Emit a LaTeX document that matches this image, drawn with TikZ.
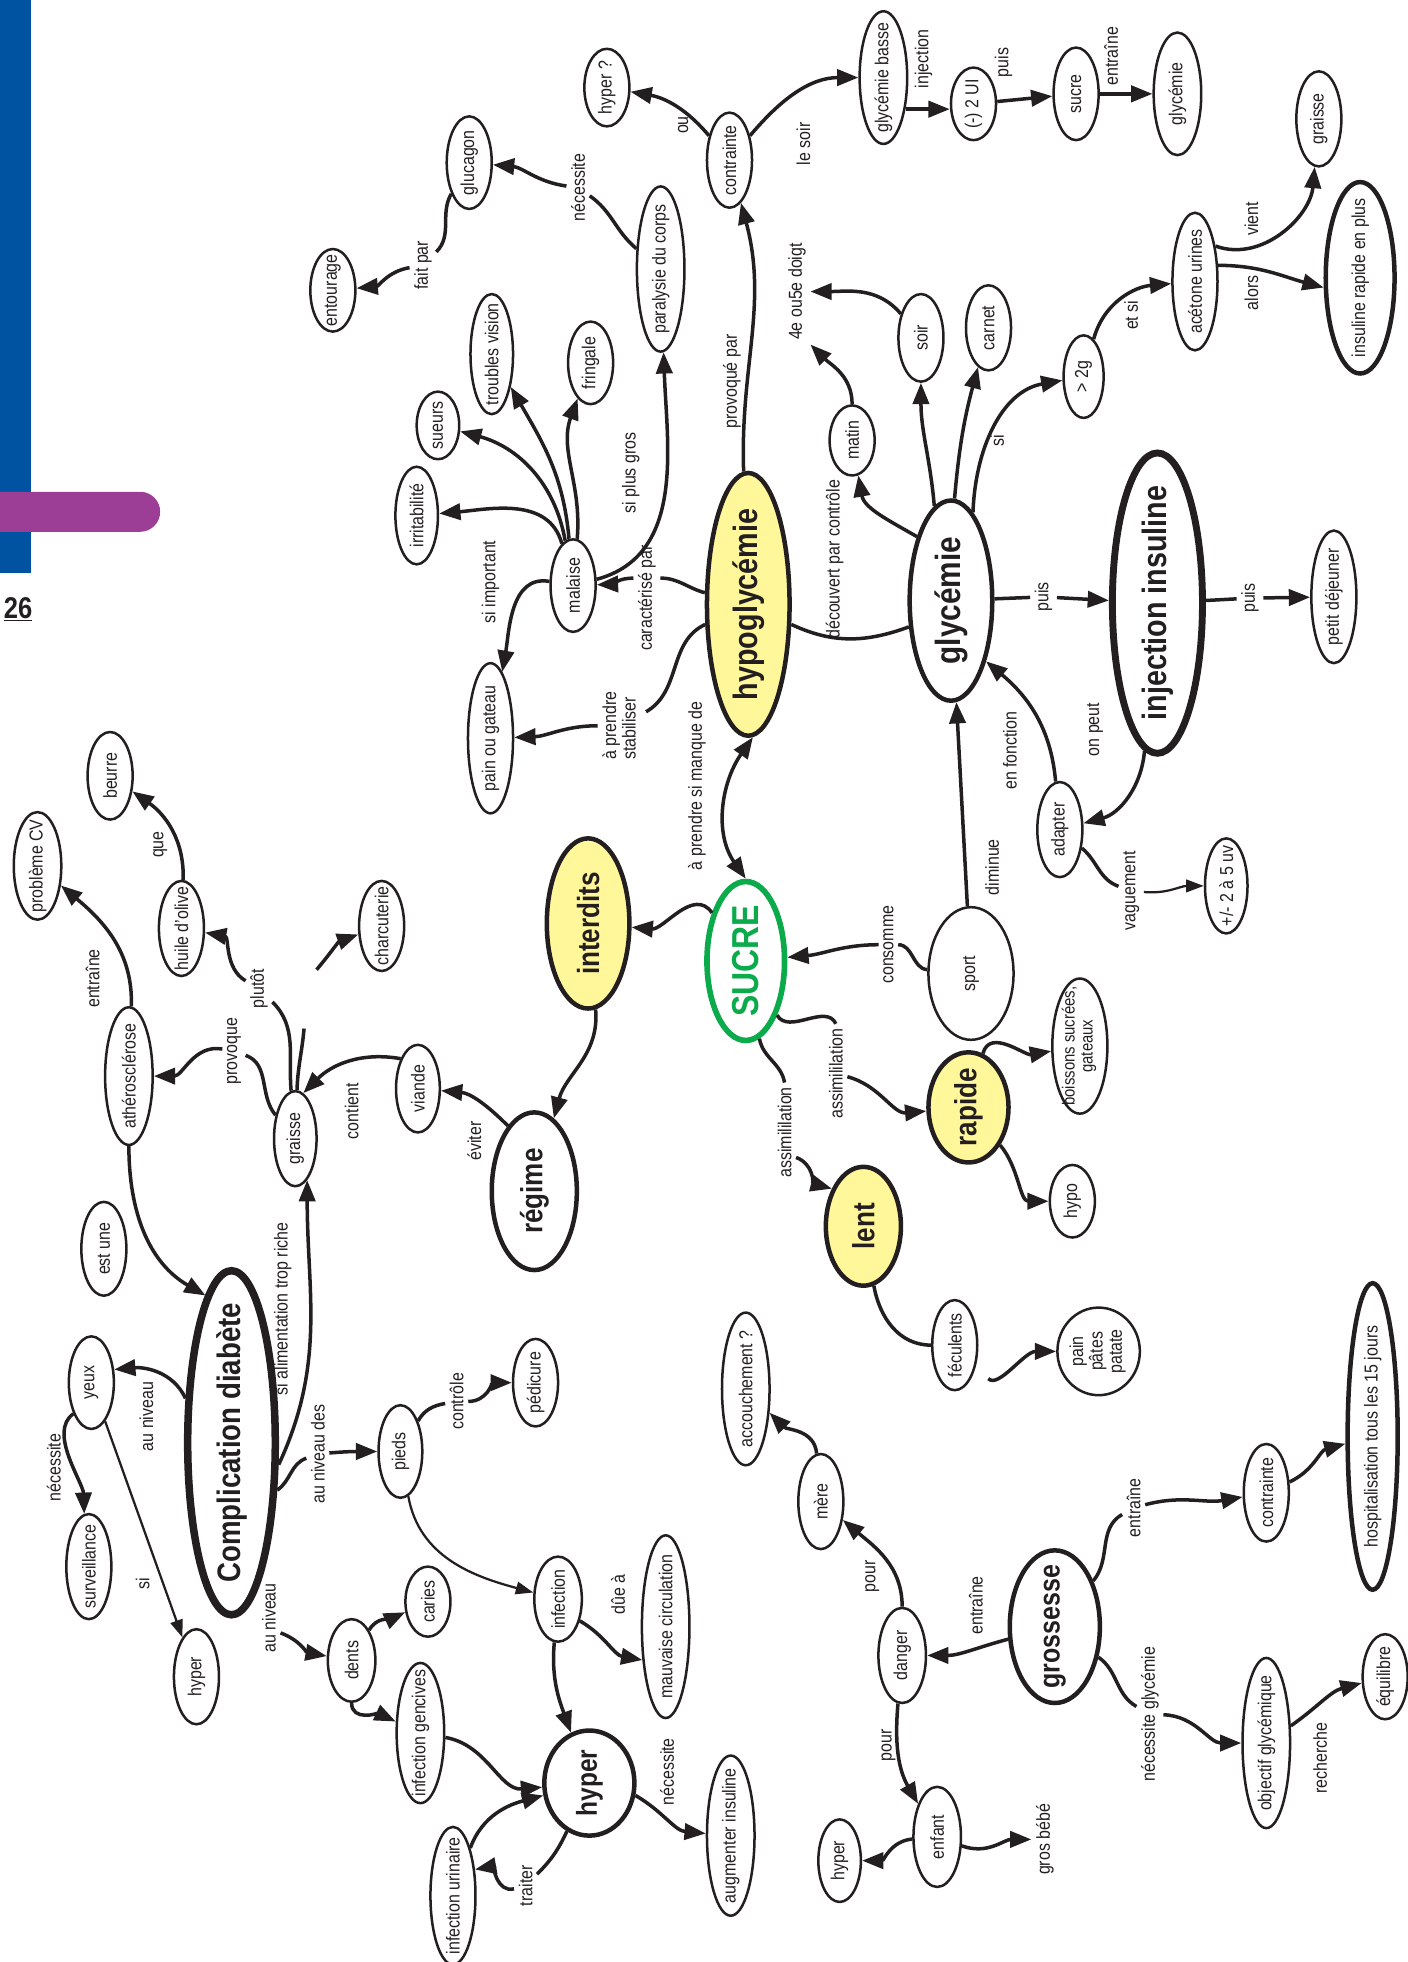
\documentclass[tikz,border=0pt]{standalone}
\usepackage{fontspec}
\usepackage{graphicx}
\setmainfont{Liberation Sans}[FakeStretch=0.85]
\usetikzlibrary{shapes.geometric,arrows.meta}
\definecolor{MapInk}{HTML}{231F20}
\definecolor{MapYellow}{HTML}{FFF799}
\definecolor{MapGreen}{HTML}{0BAA4B}
\definecolor{PageBlue}{HTML}{0053A0}
\definecolor{PagePurple}{HTML}{9C3D96}
\newcommand\lblsize{\fontsize{15}{15.5}\selectfont}
\newcommand\keyfont[1]{\fontsize{#1}{#1}\selectfont\bfseries}
\newcommand\nodetext[1]{\rotatebox{90}{\makebox[0pt]{#1}}}
\newcommand\vtext[1]{\rotatebox{90}{#1}}

\begin{document}
\begin{tikzpicture}[x=1pt, y=1pt,
    leaf/.style={ellipse, draw=MapInk, line width=2pt, inner sep=0pt,
      minimum width=36, font=\lblsize, text=MapInk},
    bignode/.style={leaf, line width=3.6pt},
    hotnode/.style={bignode, fill=MapYellow},
    lbl/.style={inner sep=3.5pt, font=\lblsize, text=MapInk},
    conn/.style={draw=MapInk, line width=2.8pt},
    arr/.style={conn, -{Triangle[length=17pt,width=13pt]}},
    arrboth/.style={conn, {Triangle[length=17pt,width=13pt]}-{Triangle[length=17pt,width=13pt]}},
    thinarr/.style={draw=MapInk, line width=1.8pt, -{Triangle[length=14pt,width=10pt]}}
  ]
  \useasboundingbox (0,0) rectangle (1125,-1568);

  % page border
  \fill[PageBlue] (0,0) rectangle (25,-458);
  \fill[PagePurple] (0,-393) -- (112,-393) arc[start angle=90,end angle=-90,radius=16] -- (0,-425) -- cycle;
  \node[anchor=east, inner sep=0pt, font=\keyfont{24}, text=MapInk] (pageNum) at (26,-487) {\underline{26}};

  % hypoglycemie side
  \node[leaf, minimum height=66] (entourage) at (266,-232) {\nodetext{entourage}};
  \node[leaf, minimum height=74] (glucagon) at (375,-130) {\nodetext{glucagon}};
  \node[leaf, minimum height=62] (hyperq) at (485,-70) {\nodetext{hyper ?}};
  \node[leaf, minimum height=76] (contrHaut) at (583,-128) {\nodetext{contrainte}};
  \node[leaf, minimum height=132, minimum width=38] (paralysie) at (528,-215) {\nodetext{paralysie du corps}};
  \node[leaf, minimum height=106, minimum width=38] (glyBasse) at (706,-62) {\nodetext{glycémie basse}};
  \node[leaf, minimum height=58] (moinsUI) at (778,-83) {\nodetext{(-) 2 UI}};
  \node[leaf, minimum height=74] (sucreLeaf) at (860,-75) {\nodetext{sucre}};
  \node[leaf, minimum height=98, minimum width=38] (glyHaut) at (941,-75) {\nodetext{glycémie}};
  \node[leaf, minimum height=76] (graisseD) at (1054,-95) {\nodetext{graisse}};
  \node[leaf, minimum height=110] (acetone) at (955,-225) {\nodetext{acétone urines}};
  \node[leaf, line width=3.6pt, minimum height=153, minimum width=55] (insRapide) at (1087,-222) {\nodetext{insuline rapide en plus}};
  \node[leaf, minimum height=66, minimum width=32] (sup2g) at (866,-301) {\nodetext{> 2g}};
  \node[leaf, minimum height=68] (carnet) at (790,-262) {\nodetext{carnet}};
  \node[leaf, minimum height=70] (soir) at (736,-270) {\nodetext{soir}};
  \node[leaf, minimum height=56] (matin) at (681,-352) {\nodetext{matin}};
  \node[leaf, minimum height=96, minimum width=34] (troubles) at (393,-283) {\nodetext{troubles vision}};
  \node[leaf, minimum height=66] (fringale) at (472,-290) {\nodetext{fringale}};
  \node[leaf, minimum height=54, minimum width=34] (sueurs) at (350,-340) {\nodetext{sueurs}};
  \node[leaf, minimum height=78, minimum width=34] (irrit) at (333,-412) {\nodetext{irritabilité}};
  \node[leaf, minimum height=74] (malaise) at (458,-468) {\nodetext{malaise}};
  \node[hotnode, minimum height=210, minimum width=66, font=\keyfont{27}] (hypoG) at (598,-483) {\nodetext{hypoglycémie}};
  \node[bignode, minimum height=160, minimum width=66, font=\keyfont{28}] (glyMain) at (760,-480) {\nodetext{glycémie}};
  \node[bignode, line width=5.5pt, minimum height=240, minimum width=72, font=\keyfont{27}] (injIns) at (925,-482) {\nodetext{injection insuline}};
  \node[leaf, minimum height=106] (petitDej) at (1066,-477) {\nodetext{petit déjeuner}};
  \node[leaf, minimum height=120] (painGateau) at (392,-590) {\nodetext{pain ou gateau}};
  \node[leaf, minimum height=76] (adapter) at (847,-663) {\nodetext{adapter}};
  \node[leaf, minimum height=76, minimum width=34] (plusMoins) at (980,-708) {\nodetext{+/- 2 à 5 uv}};

  % sucre and regime
  \node[hotnode, minimum height=136, minimum width=66, font=\keyfont{24.5}] (interdits) at (470,-738) {\nodetext{interdits}};
  \node[bignode, draw=MapGreen, text=MapGreen, line width=4.5pt, minimum height=127, minimum width=62, font=\keyfont{30}] (sucre) at (596,-768) {\nodetext{SUCRE}};
  \node[leaf, minimum height=106, minimum width=68] (sport) at (776,-778) {\nodetext{sport}};
  \node[leaf, minimum height=108, minimum width=44, font=\fontsize{14}{14.5}\selectfont] (boissons) at (863,-836) {\nodetext{\begin{tabular}{@{}c@{}}boissons sucrées,\\gateaux\end{tabular}}};
  \node[hotnode, minimum height=88, minimum width=64, font=\keyfont{24.5}] (rapide) at (774,-885) {\nodetext{rapide}};
  \node[leaf, minimum height=58] (hypoLeaf) at (857,-960) {\nodetext{hypo}};
  \node[hotnode, minimum height=95, minimum width=60, font=\keyfont{24.5}] (lent) at (690,-980) {\nodetext{lent}};
  \node[bignode, minimum height=126, minimum width=68, font=\keyfont{24.5}] (regime) at (427,-952) {\nodetext{régime}};
  \node[leaf, minimum height=70, minimum width=35] (viande) at (334,-870) {\nodetext{viande}};
  \node[leaf, minimum height=72] (charcuterie) at (305,-740) {\nodetext{charcuterie}};
  \node[leaf, minimum height=76, minimum width=34] (graisseG) at (236,-910) {\nodetext{graisse}};
  \node[leaf, minimum height=76] (huile) at (145,-742) {\nodetext{huile d'olive}};
  \node[leaf, minimum height=70] (beurre) at (88,-620) {\nodetext{beurre}};
  \node[leaf, minimum height=86, minimum width=38] (problemeCV) at (30,-692) {\nodetext{problème CV}};
  \node[leaf, minimum height=110, minimum width=38] (athero) at (103,-860) {\nodetext{athérosclérose}};
  \node[leaf, minimum height=75] (estUne) at (83,-998) {\nodetext{est une}};

  % complications
  \node[bignode, line width=6pt, minimum height=275, minimum width=70, font=\keyfont{26}] (complication) at (185,-1153) {\nodetext{Complication diabète}};
  \node[leaf, minimum height=74] (yeux) at (73,-1105) {\nodetext{yeux}};
  \node[leaf, minimum height=84, minimum width=36] (surveillance) at (71,-1252) {\nodetext{surveillance}};
  \node[leaf, minimum height=76] (hyperYeux) at (157,-1340) {\nodetext{hyper}};
  \node[leaf, minimum height=74, minimum width=35] (pieds) at (320,-1160) {\nodetext{pieds}};
  \node[leaf, minimum height=70] (pedicure) at (428,-1105) {\nodetext{pédicure}};
  \node[leaf, minimum height=66, minimum width=38] (dents) at (281,-1327) {\nodetext{dents}};
  \node[leaf, minimum height=56] (caries) at (342,-1280) {\nodetext{caries}};
  \node[leaf, minimum height=112, minimum width=38] (gencives) at (336,-1385) {\nodetext{infection gencives}};
  \node[leaf, minimum height=68, minimum width=38] (infection) at (446,-1278) {\nodetext{infection}};
  \node[leaf, minimum height=146, minimum width=38] (circulation) at (532,-1300) {\nodetext{mauvaise circulation}};
  \node[bignode, minimum height=84, minimum width=72, font=\keyfont{23}] (hyperC) at (471,-1425) {\nodetext{hyper}};
  \node[leaf, minimum height=128, minimum width=38] (augmenter) at (584,-1467) {\nodetext{augmenter insuline}};
  \node[leaf, minimum height=110] (urinaire) at (362,-1515) {\nodetext{infection urinaire}};

  % grossesse
  \node[leaf, minimum height=122, minimum width=38] (accouchement) at (596,-1110) {\nodetext{accouchement ?}};
  \node[leaf, minimum height=76] (mere) at (656,-1200) {\nodetext{mère}};
  \node[leaf, minimum height=76, minimum width=38] (danger) at (721,-1323) {\nodetext{danger}};
  \node[bignode, minimum height=122, minimum width=72, font=\keyfont{23.5}] (grossesse) at (843,-1300) {\nodetext{grossesse}};
  \node[leaf, minimum height=80, minimum width=38] (enfant) at (749,-1468) {\nodetext{enfant}};
  \node[leaf, minimum height=66, minimum width=34] (hyperBebe) at (671,-1487) {\nodetext{hyper}};
  \node[lbl] (grosBebe) at (835,-1470) {\vtext{gros bébé}};
  \node[leaf, minimum height=72] (feculents) at (763,-1075) {\nodetext{féculents}};
  \node[leaf, minimum height=70, minimum width=46] (painPates) at (878,-1080) {\nodetext{\begin{tabular}{@{}c@{}}pain\\pâtes\\patate\end{tabular}}};
  \node[leaf, minimum height=78] (contrBas) at (1012,-1193) {\nodetext{contrainte}};
  \node[leaf, line width=3.6pt, minimum height=245, minimum width=40] (hospit) at (1097,-1148) {\nodetext{hospitalisation tous les 15 jours}};
  \node[leaf, minimum height=136, minimum width=38] (objectif) at (1012,-1393) {\nodetext{objectif glycémique}};
  \node[leaf, minimum height=68] (equilibre) at (1107,-1340) {\nodetext{équilibre}};

  % link labels
  \node[lbl] (lFaitPar) at (338,-212) {\vtext{fait par}};
  \node[lbl] (lNecGluc) at (462,-150) {\vtext{nécessite}};
  \node[lbl] (lOu) at (546,-100) {\vtext{ou}};
  \node[lbl] (lSoir) at (642,-115) {\vtext{le soir}};
  \node[lbl] (lInjection) at (738,-47) {\vtext{injection}};
  \node[lbl] (lPuisHaut) at (802,-50) {\vtext{puis}};
  \node[lbl] (lEntrHaut) at (888,-45) {\vtext{entraîne}};
  \node[lbl] (lVient) at (1000,-175) {\vtext{vient}};
  \node[lbl] (lAlors) at (1000,-234) {\vtext{alors}};
  \node[lbl] (lEtSi) at (904,-252) {\vtext{et si}};
  \node[lbl] (doigt) at (637,-233) {\vtext{4e ou5e doigt}};
  \node[lbl] (lSi) at (797,-352) {\vtext{si}};
  \node[lbl] (lSiImportant) at (392,-465) {\vtext{si important}};
  \node[lbl] (lPlusGros) at (504,-378) {\vtext{si plus gros}};
  \node[lbl] (lProvoquePar) at (585,-305) {\vtext{provoqué par}};
  \node[lbl] (lCaract) at (517,-478) {\vtext{caractérisé par}};
  \node[lbl] (lDecouvert) at (667,-447) {\vtext{découvert par contrôle}};
  \node[lbl] (lPuisA) at (834,-477) {\vtext{puis}};
  \node[lbl] (lPuisB) at (999,-478) {\vtext{puis}};
  \node[lbl] (lStabiliser) at (497,-580) {\vtext{\begin{tabular}{@{}l@{}}à prendre\\stabiliser\end{tabular}}};
  \node[lbl] (lManque) at (557,-628) {\vtext{à prendre si manque de}};
  \node[lbl] (lFonction) at (807,-600) {\vtext{en fonction}};
  \node[lbl] (lOnPeut) at (875,-583) {\vtext{on peut}};
  \node[lbl] (lDiminue) at (793,-693) {\vtext{diminue}};
  \node[lbl] (lVaguement) at (904,-712) {\vtext{vaguement}};
  \node[lbl] (lConsomme) at (710,-755) {\vtext{consomme}};
  \node[lbl] (lAssimRapide) at (668,-858) {\vtext{assimililation}};
  \node[lbl] (lAssimLent) at (627,-905) {\vtext{assimililation}};
  \node[lbl] (lEviter) at (379,-912) {\vtext{éviter}};
  \node[lbl] (lContient) at (281,-888) {\vtext{contient}};
  \node[lbl] (lPlutot) at (207,-790) {\vtext{plutôt}};
  \node[lbl] (lQue) at (128,-675) {\vtext{que}};
  \node[lbl] (lEntrCV) at (74,-782) {\vtext{entraîne}};
  \node[lbl] (lProvoque) at (187,-840) {\vtext{provoque}};
  \node[lbl] (lAlimentation) at (226,-1046) {\vtext{si alimentation trop riche}};
  \node[lbl] (lNivYeux) at (117,-1132) {\vtext{au niveau}};
  \node[lbl] (lNecSurv) at (43,-1173) {\vtext{nécessite}};
  \node[lbl] (lSiYeux) at (114,-1266) {\vtext{si}};
  \node[lbl] (lNivPieds) at (254,-1162) {\vtext{au niveau des}};
  \node[lbl] (lControle) at (365,-1120) {\vtext{contrôle}};
  \node[lbl] (lNivDents) at (215,-1293) {\vtext{au niveau}};
  \node[lbl] (lDue) at (494,-1274) {\vtext{dûe à}};
  \node[lbl] (lNecAug) at (533,-1416) {\vtext{nécessite}};
  \node[lbl] (lTraiter) at (420,-1507) {\vtext{traiter}};
  \node[lbl] (lPourMere) at (697,-1260) {\vtext{pour}};
  \node[lbl] (lEntrDanger) at (780,-1283) {\vtext{entraîne}};
  \node[lbl] (lPourEnfant) at (710,-1395) {\vtext{pour}};
  \node[lbl] (lEntrContr) at (906,-1205) {\vtext{entraîne}};
  \node[lbl] (lNecGly) at (919,-1370) {\vtext{nécessite glycémie}};
  \node[lbl] (lRecherche) at (1055,-1405) {\vtext{recherche}};

  \coordinate (charcA) at (243,-822);
  \coordinate (charcB) at (253,-775);

  % links: hypoglycemie
  \draw[conn] (glucagon) to[out=-120,in=45] (lFaitPar);
  \draw[arr] (lFaitPar) to[out=190,in=5] (entourage);
  \draw[conn] (paralysie) to[out=140,in=-35] (lNecGluc);
  \draw[arr] (lNecGluc) to[out=172,in=-5] (glucagon);
  \draw[arr] (contrHaut) to[out=130,in=-10] (hyperq);
  \draw[arr] (contrHaut) to[out=50,in=180] (glyBasse);
  \draw[arr] (hypoG) to[out=92,in=-75] (contrHaut);
  \draw[arr] (glyBasse.-55) -- (glyBasse.-55 -| moinsUI.west);
  \draw[arr] (moinsUI) -- (sucreLeaf);
  \draw[arr] (sucreLeaf) -- (glyHaut);
  \draw[arr] (malaise) to[out=105,in=5] (irrit);
  \draw[arr] (malaise) to[out=100,in=-15] (sueurs);
  \draw[arr] (malaise) to[out=95,in=-60] (troubles);
  \draw[arr] (malaise) to[out=85,in=-110] (fringale);
  \draw[arr] (malaise) to[out=170,in=80] (painGateau);
  \draw[arr] (malaise) to[out=15,in=-88] (paralysie);
  \draw[conn] (hypoG) to[out=165,in=0] ([yshift=16]lCaract.east);
  \draw[arr] ([yshift=16]lCaract.west) to[out=180,in=2] (malaise);
  \draw[conn] (hypoG) to[out=205,in=30] (lStabiliser);
  \draw[arr] (lStabiliser) to[out=180,in=2] (painGateau);
  \draw[arrboth] (sucre.90) to[out=125,in=-125] (hypoG.-88);

  % links: glycemie and injection
  \draw[conn] (hypoG) to[out=-25,in=200] (glyMain.212);
  \draw[arr] (glyMain.118) to[out=150,in=-80] (matin);
  \draw[arr] (matin) to[out=90,in=-45] (doigt.south east);
  \draw[arr] (soir) to[out=130,in=0] (doigt);
  \draw[arr] (glyMain.100) to[out=95,in=-90] (soir);
  \draw[arr] (glyMain.88) to[out=85,in=-105] (carnet);
  \draw[arr] (glyMain.76) to[out=88,in=190] (sup2g);
  \draw[arr] (sup2g) to[out=75,in=185] (acetone);
  \draw[arr] (acetone.60) to[out=-20,in=-95] (graisseD);
  \draw[arr] (acetone.35) to[out=0,in=165] (insRapide.195);
  \draw[conn] (glyMain) -- (lPuisA);
  \draw[arr] (lPuisA) -- (injIns);
  \draw[conn] (injIns) -- (lPuisB);
  \draw[arr] (lPuisB) -- (petitDej);
  \draw[arr] (injIns) to[out=-95,in=15] (adapter);
  \draw[arr] (adapter) to[out=95,in=-40] (glyMain.-60);
  \draw[conn] (adapter) to[out=-40,in=160] (lVaguement);
  \draw[thinarr] (lVaguement) to[out=-5,in=180] (plusMoins);
  \draw[arr] (sport) -- (glyMain);

  % links: sucre
  \draw[arr] (sucre) to[out=125,in=-5] (interdits);
  \draw[arr] (interdits) to[out=-85,in=75] (regime);
  \draw[conn] (sport) to[out=175,in=0] (lConsomme);
  \draw[arr] (lConsomme) to[out=180,in=5] (sucre);
  \draw[conn] (sucre) to[out=-60,in=115] (lAssimRapide.north);
  \draw[arr] (lAssimRapide) to[out=-15,in=185] (rapide);
  \draw[conn] (sucre) to[out=-80,in=100] (lAssimLent.north);
  \draw[arr] ([yshift=-20]lAssimLent.east) to[out=-20,in=165] (lent.130);
  \draw[arr] (rapide) to[out=75,in=190] (boissons);
  \draw[arr] (rapide) to[out=-50,in=180] (hypoLeaf);
  \draw[conn] (lent) to[out=-80,in=180] (feculents);
  \draw[arr, shorten <=14pt] (feculents) to[out=-45,in=180] (painPates);

  % links: regime and graisse
  \draw[arr] (regime.112) to[out=135,in=-5] (viande);
  \draw[arr] (viande.120) to[out=170,in=45] (graisseG.80);
  \draw[conn] (graisseG) to[out=130,in=-20] (lProvoque);
  \draw[arr] (lProvoque) to[out=170,in=0] (athero);
  \draw[conn] (graisseG) to[out=95,in=-45] (lPlutot);
  \draw[arr] (lPlutot) to[out=150,in=-10] (huile);
  \draw[conn] (graisseG) to[out=88,in=-95] (charcA);
  \draw[arr] (charcB) to[out=50,in=200] (charcuterie);
  \draw[arr] (huile) to[out=88,in=-35] (beurre);
  \draw[arr] (athero) to[out=88,in=-40] (problemeCV);
  \draw[arr] (athero) to[out=-90,in=150] (complication.100);

  % links: complication
  \draw[arr] (complication.-25) to[out=65,in=-90] (graisseG.-74);
  \draw[arr] (complication.136) to[out=115,in=5] (yeux.30);
  \draw[arr] (yeux.240) to[out=215,in=92,looseness=0.8] (surveillance.95);
  \draw[thinarr] (yeux) -- (hyperYeux);
  \draw[conn] (complication.-46) to[out=35,in=200] (lNivPieds);
  \draw[arr] (lNivPieds) to[out=5,in=180] (pieds);
  \draw[conn] (pieds) to[out=60,in=190] (lControle);
  \draw[arr] (lControle) to[out=0,in=180] (pedicure);
  \draw[thinarr] (pieds) to[out=-80,in=165] (infection);
  \draw[arr] ([yshift=-12]lNivDents.east) to[out=-20,in=170] (dents);
  \draw[arr] (dents) to[out=60,in=205] (caries);
  \draw[arr] (dents) to[out=-90,in=155] (gencives);
  \draw[arr] (gencives) to[out=-10,in=185] (hyperC);
  \draw[arr] (infection.-45) to[out=-30,in=170] (circulation.235);
  \draw[arr] (infection) to[out=-95,in=110] (hyperC);
  \draw[arr] (hyperC.-15) to[out=-30,in=175] (augmenter);
  \draw[arr] (urinaire) to[out=70,in=195] (hyperC);
  \draw[conn] (hyperC) to[out=-115,in=45] (lTraiter);
  \draw[arr] (lTraiter) to[out=195,in=10] (urinaire.50);

  % links: grossesse
  \draw[arr] (mere) to[out=95,in=-45] (accouchement);
  \draw[arr] (danger) to[out=90,in=-40] (mere);
  \draw[arr] (danger) to[out=-95,in=120] (enfant);
  \draw[arr] (grossesse) to[out=195,in=0] (danger);
  \draw[arr] (enfant) to[out=185,in=0] (hyperBebe);
  \draw[arr] (enfant) to[out=-20,in=180] (grosBebe);
  \draw[conn] (grossesse) to[out=50,in=-150] (lEntrContr);
  \draw[arr] (lEntrContr) to[out=15,in=190] (contrBas);
  \draw[arr] (contrBas) to[out=25,in=195] (hospit);
  \draw[conn] (grossesse) to[out=-35,in=150] (lNecGly);
  \draw[arr] (lNecGly) to[out=-2,in=180] (objectif);
  \draw[arr] (objectif) to[out=35,in=195] (equilibre);
\end{tikzpicture}
\end{document}
